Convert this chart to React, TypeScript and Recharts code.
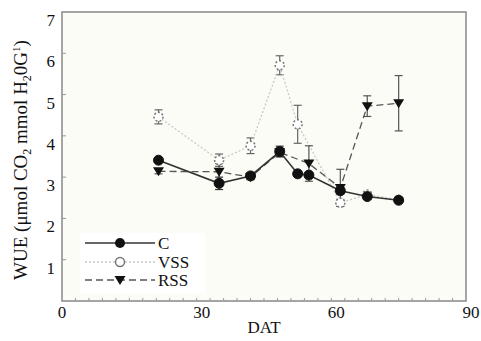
import { LineChart, Line, XAxis, YAxis, ErrorBar, ReferenceArea } from 'recharts';

// days after transplanting
const days = [21.5, 35, 42, 48.5, 52.5, 55, 62, 68, 75];
const cWue = [3.41, 2.85, 3.03, 3.62, 3.08, 3.05, 2.67, 2.53, 2.44];
const cErr = [0.05, 0.15, 0.08, 0.13, 0.05, 0.05, 0.08, 0.05, 0.03];
const vssWue = [4.46, 3.41, 3.76, 5.71, 4.28, null, 2.38, 2.58, 2.45];
const vssErr = [0.17, 0.15, 0.19, 0.23, 0.46, null, 0.08, 0.05, 0.04];
const rssWue = [3.14, 3.13, 3.0, 3.6, null, 3.33, 2.74, 4.72, 4.79];
const rssErr = [0.06, 0.2, 0.06, 0.1, null, 0.43, 0.45, 0.25, 0.67];

const xTicks = Array.from({ length: 31 }, (_, i) => i * 3);
const yTicks = [1, 2, 3, 4, 5, 6, 7];
const seriesNames = ['C', 'VSS', 'RSS'];

const rows = days.map((d, i) => ({
  day: d,
  c: cWue[i],
  cErr: cErr[i],
  vss: vssWue[i],
  vssErr: vssErr[i],
  rss: rssWue[i],
  rssErr: rssErr[i],
}));

const FONT = "'Liberation Serif', 'DejaVu Serif', serif";
const txt = { fontFamily: FONT };

const XTick = (props: any) => {
  const { x, y, payload } = props;
  const v = payload.value;
  return (
    <g>
      {v > 0 && v < 90 && <line x1={x} x2={x} y1={y} y2={y - 3} stroke="#999" strokeWidth={1} />}
      {v % 30 === 0 && (
        <text x={x + (v ? 5 : 0)} y={y + 17} textAnchor="middle" fontSize={17} style={txt} fill="#111">
          {v}
        </text>
      )}
      {v === 45 && (
        <text x={x} y={y + 32} textAnchor="middle" fontSize={17} style={txt} fill="#111">
          DAT
        </text>
      )}
    </g>
  );
};

const YTick = (props: any) => {
  const { x, y, payload } = props;
  return (
    <g>
      {payload.value < 7 && <line x1={x} x2={x + 4} y1={y} y2={y} stroke="#999" strokeWidth={1} />}
      <text x={x - 7} y={y + 14} textAnchor="end" fontSize={17} style={txt} fill="#111">
        {payload.value}
      </text>
    </g>
  );
};

const Tri = (props: any) => {
  const { cx, cy, index } = props;
  if (cx == null || cy == null) return <g key={index} />;
  return <path key={index} d={`M${cx - 5.5},${cy - 4} L${cx + 5.5},${cy - 4} L${cx},${cy + 5} Z`} fill="#111" />;
};

const YLabel = () => (
  <text transform="translate(27,160) rotate(-90)" textAnchor="middle" fontSize={19} style={txt} fill="#111">
    <tspan>WUE (μmol CO</tspan>
    <tspan dy={4} fontSize={12}>2</tspan>
    <tspan dy={-4}> mmol H</tspan>
    <tspan dy={4} fontSize={12}>2</tspan>
    <tspan dy={-4}>0G</tspan>
    <tspan dy={-7} fontSize={11}>1</tspan>
    <tspan dy={7}>)</tspan>
  </text>
);

function LegendBox() {
  const rowsY = [10, 29, 47];
  return (
    <div style={{ position: 'absolute', left: 80, top: 233, width: 125, height: 60, background: '#fff' }}>
      <svg width={125} height={60}>
        <line x1={5} x2={75} y1={rowsY[0]} y2={rowsY[0]} stroke="#333" strokeWidth={1.6} />
        <circle cx={40} cy={rowsY[0]} r={5} fill="#111" />
        <line x1={5} x2={75} y1={rowsY[1]} y2={rowsY[1]} stroke="#c8c8c8" strokeWidth={1.3} strokeDasharray="2 2" />
        <circle cx={40} cy={rowsY[1]} r={4.5} fill="#fff" stroke="#777" strokeWidth={1.5} />
        <line x1={5} x2={75} y1={rowsY[2]} y2={rowsY[2]} stroke="#555" strokeWidth={1.3} strokeDasharray="7 4" />
        <path d={`M${40 - 5.5},${rowsY[2] - 4} L${40 + 5.5},${rowsY[2] - 4} L40,${rowsY[2] + 5} Z`} fill="#111" />
        {seriesNames.map((n, i) => (
          <text key={n} x={78} y={rowsY[i] + 6} fontSize={17} style={txt} fill="#111">
            {n}
          </text>
        ))}
      </svg>
    </div>
  );
}

export default function App() {
  return (
    <div style={{ position: 'fixed', left: 0, top: 0, width: 481, height: 341, background: '#fff', fontFamily: FONT }}>
      <LineChart width={481} height={341} data={rows} margin={{ top: 12, right: 15, bottom: 0, left: 0 }}>
        <XAxis
          type="number"
          dataKey="day"
          domain={[0, 90]}
          ticks={xTicks}
          interval={0}
          tick={<XTick />}
          tickLine={false}
          axisLine={false}
          tickSize={0}
          tickMargin={0}
          height={40}
        />
        <YAxis
          type="number"
          domain={[0, 7]}
          ticks={yTicks}
          interval={0}
          tick={<YTick />}
          tickLine={false}
          axisLine={false}
          tickSize={0}
          tickMargin={0}
          width={62}
          label={<YLabel />}
        />
        <ReferenceArea x1={0} x2={90} y1={0} y2={7} fill="#fcfcf6" fillOpacity={1} stroke="#888" strokeWidth={1.5} />
        <Line
          dataKey="vss"
          stroke="#c8c8c8"
          strokeWidth={1.3}
          strokeDasharray="2 2"
          connectNulls
          dot={{ r: 4.5, fill: '#fff', stroke: '#777', strokeWidth: 1.5 }}
          isAnimationActive={false}
        >
          <ErrorBar dataKey="vssErr" direction="y" width={4} stroke="#666" strokeWidth={1.2} />
        </Line>
        <Line
          dataKey="rss"
          stroke="#555"
          strokeWidth={1.3}
          strokeDasharray="7 4"
          connectNulls
          dot={Tri}
          isAnimationActive={false}
        >
          <ErrorBar dataKey="rssErr" direction="y" width={4} stroke="#555" strokeWidth={1.2} />
        </Line>
        <Line
          dataKey="c"
          stroke="#333"
          strokeWidth={1.6}
          connectNulls
          dot={{ r: 5, fill: '#111', stroke: '#111', strokeWidth: 1 }}
          isAnimationActive={false}
        >
          <ErrorBar dataKey="cErr" direction="y" width={4} stroke="#333" strokeWidth={1.2} />
        </Line>
      </LineChart>
      <LegendBox />
    </div>
  );
}
